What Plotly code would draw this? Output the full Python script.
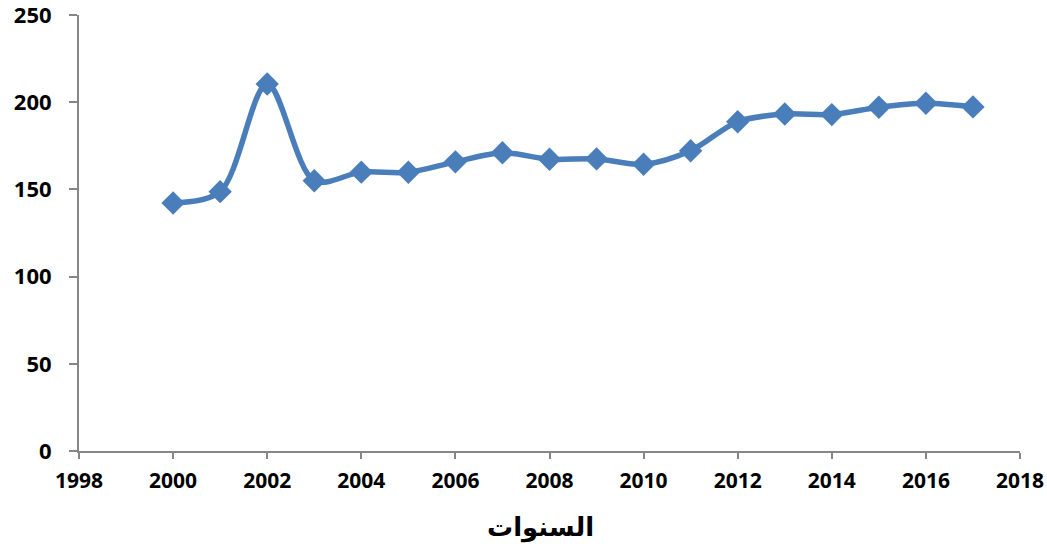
import plotly.graph_objects as go

years = [2000, 2001, 2002, 2003, 2004, 2005, 2006, 2007, 2008, 2009,
         2010, 2011, 2012, 2013, 2014, 2015, 2016, 2017]
values = [142.2, 148.7, 210.4, 155.0, 159.9, 159.8, 165.8, 171.0, 167.3, 167.5,
          164.4, 172.2, 188.8, 193.2, 192.9, 197.1, 199.4, 197.3]
x_title = "السنوات"

fig = go.Figure()
fig.add_trace(go.Scatter(
    x=years, y=values, mode="lines+markers",
    line=dict(color="#4A7EBB", width=5.5, shape="spline", smoothing=0.9),
    marker=dict(symbol="diamond", size=18, color="#4A7EBB"),
    showlegend=False, cliponaxis=False,
))

fig.update_layout(
    width=1047, height=549,
    margin=dict(l=79, r=27, t=15, b=98),
    paper_bgcolor="white", plot_bgcolor="white",
    xaxis=dict(range=[1998, 2018], dtick=2, tick0=1998, showgrid=False,
               showline=True, linecolor="#868686", linewidth=2,
               ticks="outside", ticklen=6, tickcolor="#868686", tickwidth=2,
               tickfont=dict(family="Open Sans", size=21, color="#000000", weight="bold"),
               ticklabelstandoff=4,
               zeroline=False, automargin=False, ticklabeloverflow="allow"),
    yaxis=dict(range=[0, 250], dtick=50, showgrid=False,
               showline=True, linecolor="#868686", linewidth=2,
               ticks="outside", ticklen=8, tickcolor="#868686", tickwidth=2,
               tickfont=dict(family="Open Sans", size=22, color="#000000", weight="bold"),
               ticklabelstandoff=13,
               zeroline=False, automargin=False, ticklabeloverflow="allow"),
    annotations=[dict(text="<b>" + x_title + "</b>", xref="paper", yref="paper",
                      x=0.49, y=-0.176, yanchor="middle", showarrow=False,
                      font=dict(family="DejaVu Sans", size=26, color="#000000"))],
)
fig.write_html("out.html", config={"displayModeBar": False},
               post_script="document.body.style.margin='0';document.body.style.overflow='hidden';")
